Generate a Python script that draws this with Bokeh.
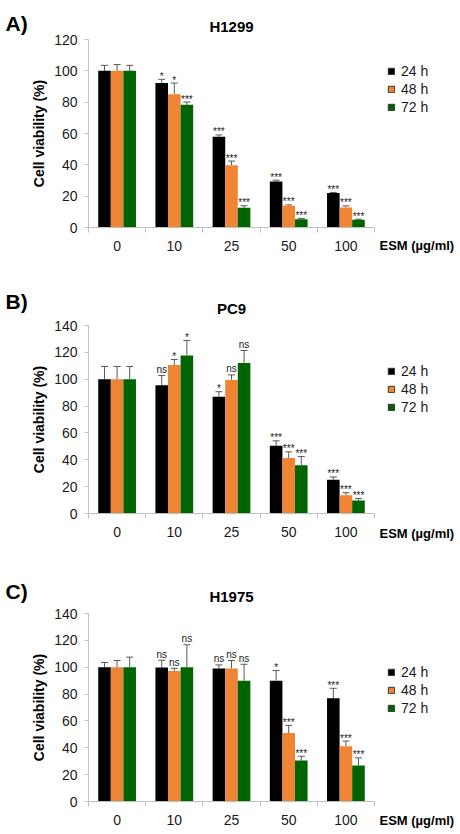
from bokeh.plotting import figure
from bokeh.layouts import column
from bokeh.models import (ColumnDataSource, Range1d, FixedTicker, Label, Legend,
                          LegendItem, Whisker, TeeHead, GridBox)
from bokeh.core.properties import value
from bokeh.embed import file_html
from bokeh.resources import INLINE

# ---- data -------------------------------------------------------------
doses = ["0", "10", "25", "50", "100"]          # ESM concentration (µg/ml)
times = ["24 h", "48 h", "72 h"]
colors = ["#000000", "#EE8434", "#006400"]

# H1299
h1299_24 = [100, 92.2, 57.9, 29.4, 22.0]
h1299_48 = [100, 85.0, 39.8, 13.9, 12.8]
h1299_72 = [100, 78.3, 12.6, 5.3, 5.0]
h1299_24_err = [3.5, 2.4, 1.2, 0.8, 0.4]
h1299_48_err = [4.0, 7.2, 2.6, 0.5, 1.0]
h1299_72_err = [3.5, 1.8, 1.3, 0.5, 0.3]
h1299_24_sig = ["", "*", "***", "***", "***"]
h1299_48_sig = ["", "*", "***", "***", "***"]
h1299_72_sig = ["", "***", "***", "***", "***"]

# PC9
pc9_24 = [100, 95.5, 87.0, 50.4, 25.2]
pc9_48 = [100, 110.5, 99.5, 41.4, 13.5]
pc9_72 = [100, 117.7, 112.0, 35.9, 9.7]
pc9_24_err = [9.5, 7.2, 3.7, 3.7, 2.0]
pc9_48_err = [9.5, 4.2, 3.7, 4.5, 2.0]
pc9_72_err = [9.5, 11.2, 9.4, 6.5, 1.5]
pc9_24_sig = ["", "ns", "*", "***", "***"]
pc9_48_sig = ["", "*", "ns", "***", "***"]
pc9_72_sig = ["", "*", "ns", "***", "***"]

# H1975
h1975_24 = [100, 99.7, 99.0, 90.0, 76.8]
h1975_48 = [100, 97.2, 99.0, 51.0, 41.2]
h1975_72 = [100, 100.0, 90.0, 30.5, 26.8]
h1975_24_err = [3.5, 5.5, 2.7, 7.5, 7.5]
h1975_48_err = [5.0, 2.0, 6.0, 5.7, 3.8]
h1975_72_err = [7.5, 16.7, 12.2, 3.2, 5.7]
h1975_24_sig = ["", "ns", "ns", "*", "***"]
h1975_48_sig = ["", "ns", "ns", "***", "***"]
h1975_72_sig = ["", "ns", "ns", "***", "***"]

ticks_120 = [0, 20, 40, 60, 80, 100, 120]
ticks_140 = [0, 20, 40, 60, 80, 100, 120, 140]

FONT = "Liberation Sans"
AXIS_GRAY = "#BFBFBF"
ERR_GRAY = "#595959"
BAR_W = 0.22
OFFSETS = [-0.22, 0.0, 0.22]

PAGE_W, PAGE_H = 460, 834
LEFT_B, RIGHT_B = 88, 86
FRAME_H = 188


def bar_panel(means, errs, sigs, ticks, height, top, bottom):
    y_max = ticks[-1]
    p = figure(width=PAGE_W, height=height,
               x_range=Range1d(-0.5, 4.5), y_range=Range1d(0, y_max),
               output_backend="svg", toolbar_location=None,
               min_border_left=LEFT_B, min_border_right=RIGHT_B,
               min_border_top=top, min_border_bottom=bottom,
               frame_align=False)
    p.outline_line_color = None
    p.xgrid.visible = False
    p.ygrid.visible = False

    xa = p.xaxis[0]
    xa.ticker = FixedTicker(ticks=list(range(len(doses))),
                            minor_ticks=[i - 0.5 for i in range(len(doses) + 1)])
    xa.major_label_overrides = {i: d for i, d in enumerate(doses)}
    xa.axis_line_color = AXIS_GRAY
    xa.major_tick_line_color = None
    xa.major_tick_out = 0
    xa.major_tick_in = 0
    xa.minor_tick_line_color = AXIS_GRAY
    xa.minor_tick_out = 5
    xa.minor_tick_in = 0
    xa.major_label_standoff = 8
    xa.major_label_text_font = FONT
    xa.major_label_text_font_size = "14px"
    xa.major_label_text_color = "#1a1a1a"

    ya = p.yaxis[0]
    ya.ticker = FixedTicker(ticks=ticks)
    ya.axis_line_color = AXIS_GRAY
    ya.major_tick_line_color = AXIS_GRAY
    ya.major_tick_out = 4
    ya.major_tick_in = 0
    ya.minor_tick_line_color = None
    ya.major_label_standoff = 7
    ya.major_label_text_font = FONT
    ya.major_label_text_font_size = "14px"
    ya.major_label_text_color = "#1a1a1a"
    ya.axis_label = "Cell viability (%)"
    ya.axis_label_text_font = FONT
    ya.axis_label_text_font_style = "bold"
    ya.axis_label_text_font_size = "14px"
    ya.axis_label_text_color = "#000000"
    ya.axis_label_standoff = 4

    for k in range(len(times)):
        xs = [i + OFFSETS[k] for i in range(len(doses))]
        hi = [m + e for m, e in zip(means[k], errs[k])]
        off = [-6 if s == "ns" else -3 for s in sigs[k]]
        src = ColumnDataSource(dict(x=xs, top=means[k], hi=hi, sig=sigs[k], off=off))
        p.vbar(x="x", top="top", width=BAR_W, source=src,
               fill_color=colors[k], line_color=None)
        p.add_layout(Whisker(source=src, base="x", lower="top", upper="hi",
                             dimension="height", line_color=ERR_GRAY, line_width=1,
                             upper_head=TeeHead(size=7, line_color=ERR_GRAY, line_width=1),
                             lower_head=None))
        p.text(x="x", y="hi", text="sig", source=src, y_offset="off",
               text_align="center", text_baseline="alphabetic",
               text_font=value(FONT), text_font_size="10px", text_color="#1a1a1a")
    return p


pa = bar_panel([h1299_24, h1299_48, h1299_72],
               [h1299_24_err, h1299_48_err, h1299_72_err],
               [h1299_24_sig, h1299_48_sig, h1299_72_sig],
               ticks_120, 280, 39, 53)
pb = bar_panel([pc9_24, pc9_48, pc9_72],
               [pc9_24_err, pc9_48_err, pc9_72_err],
               [pc9_24_sig, pc9_48_sig, pc9_72_sig],
               ticks_140, 280, 45, 47)
pc = bar_panel([h1975_24, h1975_48, h1975_72],
               [h1975_24_err, h1975_48_err, h1975_72_err],
               [h1975_24_sig, h1975_48_sig, h1975_72_sig],
               ticks_140, 274, 53, 33)
charts = column(pa, pb, pc, spacing=0)

# ---- transparent text layer over the whole page (pixel coordinates) -----
ov = figure(width=PAGE_W, height=PAGE_H, x_range=Range1d(0, PAGE_W),
            y_range=Range1d(PAGE_H, 0), x_axis_type=None, y_axis_type=None,
            output_backend="svg", toolbar_location=None, min_border=0,
            frame_align=False)
ov.outline_line_color = None
ov.background_fill_alpha = 0
ov.border_fill_alpha = 0

# legend swatches: one undrawn (NaN) entry each so the legends have glyphs
swatches = [ov.vbar(x=[float("nan")], top=[float("nan")], width=1,
                    fill_color=c, line_color="#333333", line_width=1)
            for c in colors]

panel_letters = ["A)", "B)", "C)"]
cell_lines = ["H1299", "PC9", "H1975"]
letter_y = [22.5, 300.8, 591.3]
title_y = [25.8, 307.5, 595.8]
legend_row1_y = [71, 370.7, 672]
esm_y = [245, 533, 819.5]
TITLE_X = LEFT_B + (PAGE_W - LEFT_B - RIGHT_B) / 2

ROW_H, GAP = 16, 2
BOX_H = 3 * ROW_H + 2 * GAP

for i in range(3):
    ov.add_layout(Label(x=5, y=letter_y[i], text=panel_letters[i],
                        text_align="left", text_baseline="middle",
                        text_font=FONT, text_font_style="bold",
                        text_font_size="21px", text_color="#000000"))
    ov.add_layout(Label(x=TITLE_X, y=title_y[i], text=cell_lines[i],
                        text_align="center", text_baseline="middle",
                        text_font=FONT, text_font_style="bold",
                        text_font_size="15px", text_color="#000000"))
    ov.add_layout(Label(x=PAGE_W - RIGHT_B + 5, y=esm_y[i], text="ESM (µg/ml)",
                        text_align="left", text_baseline="middle",
                        text_font=FONT, text_font_style="bold",
                        text_font_size="13px", text_color="#000000"))
    legend = Legend(items=[LegendItem(label=t, renderers=[swatches[k]])
                           for k, t in enumerate(times)],
                    location=(PAGE_W - RIGHT_B + 13,
                              PAGE_H - (legend_row1_y[i] - ROW_H / 2) - BOX_H),
                    orientation="vertical", border_line_color=None,
                    background_fill_alpha=0, padding=0, margin=0, spacing=GAP,
                    glyph_width=8, glyph_height=8, label_height=ROW_H,
                    label_standoff=6, label_text_font=FONT,
                    label_text_font_size="14px", label_text_color="#1a1a1a")
    ov.add_layout(legend)

page = GridBox(children=[(charts, 0, 0), (ov, 0, 0)])
open("out.html", "w").write(file_html(page, INLINE))
